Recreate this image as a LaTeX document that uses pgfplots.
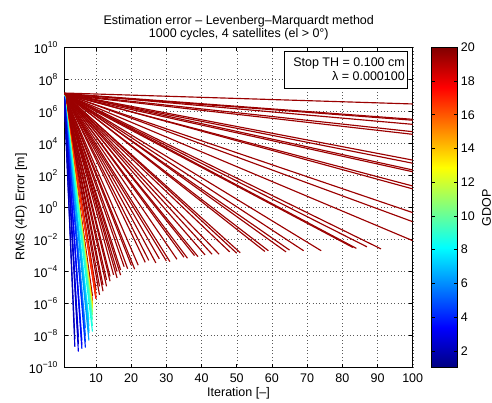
\documentclass[border=0pt]{standalone}
\usepackage{pgfplots}
\pgfplotsset{compat=1.18}
\usepackage{fontspec}
\setmainfont{Liberation Sans}

\newcommand{\lbl}{\fontsize{12.5}{14}\selectfont}
\newcommand{\ex}[1]{10\raisebox{5.6pt}{\fontsize{8.5}{9}\selectfont #1}}
% one convergence run: error at iteration 1, last iteration, last error, GDOP
\newcommand{\run}[4]{\addplot[mesh, line width=1.15pt, point meta={#4}] coordinates {(1,#1) (#2,#3)};}

\begin{document}
\begin{tikzpicture}
\useasboundingbox (0pt,0pt) rectangle (492pt,403pt);
\begin{axis}[
  at={(64.3pt,35.3pt)}, anchor=south west,
  scale only axis, width=348.4pt, height=320.4pt,
  xmin=1, xmax=100, ymode=log, ymin=1e-10, ymax=1e10,
  xtick={10,20,...,100},
  ytick={1e-10,1e-8,1e-6,1e-4,1e-2,1,1e2,1e4,1e6,1e8,1e10},
  yticklabels={\ex{−10},\ex{−8},\ex{−6},\ex{−4},\ex{−2},\ex{0},\ex{2},\ex{4},\ex{6},\ex{8},\ex{10}},
  yminorticks=false,
  /pgf/number format/assume math mode=true,
  xticklabel style={font=\lbl, yshift=-2.5pt},
  yticklabel style={font=\lbl, xshift=-3.5pt},
  grid=major,
  grid style={black!65, line width=0.4pt, dash pattern=on 0.6pt off 2.8pt},
  tick style={black, line width=0.5pt}, major tick length=3.5pt,
  axis line style={line width=0.6pt},
  colormap/jet,
  point meta min=1, point meta max=20,
  colorbar,
  colorbar/width=25.6pt,
  colorbar shift/.style={xshift=19pt},
  colorbar style={
    at={(parent axis.north east)}, anchor=north west,
    scale only axis, width=25.6pt, height=320.4pt,
    ytick={2,4,...,20},
    yticklabel style={font=\lbl, /pgf/number format/assume math mode=true},
    tick style={black, line width=0.5pt}, major tick length=3pt,
    axis line style={line width=0.6pt},
  },
]
% slowly converging runs (high GDOP)
\run{1.4e7}{100}{2.9e6}{19.5}
\run{1.3e7}{100}{3.2e5}{19.5}
\run{1.2e7}{100}{2.8e5}{19.5}
\run{1.3e7}{100}{1.55e5}{19.5}
\run{1.2e7}{100}{5.4e4}{19.5}
\run{1.1e7}{100}{3.7e4}{19.5}
\run{1.3e7}{100}{9.1e2}{19.5}
\run{1.2e7}{100}{5.8e2}{19.5}
\run{1.3e7}{100}{2.2e2}{19.5}
\run{1.1e7}{100}{1.7e2}{19.5}
\run{1.2e7}{100}{2.2e1}{19.5}
\run{1.3e7}{100}{1.45e1}{19.5}
\run{1.2e7}{100}{4.8e-1}{19.5}
\run{1.3e7}{100}{1.3e-1}{19.5}
\run{1.2e7}{100}{8.5e-3}{19.5}
\run{1.3e7}{91}{2.6e-3}{19.5}
\run{1.2e7}{87}{3.5e-3}{19.5}
\run{1.3e7}{84}{2.8e-3}{19.5}
\run{1.1e7}{83}{3.2e-3}{19.5}
\run{1.2e7}{74}{2.0e-3}{19.5}
\run{1.3e7}{69}{2.0e-3}{19.5}
\run{1.2e7}{65}{2.2e-3}{19.5}
\run{1.4e7}{64}{1.7e-3}{19.5}
\run{1.2e7}{59}{2.0e-3}{19.5}
\run{1.3e7}{58}{1.8e-3}{19.5}
\run{1.2e7}{51}{1.5e-3}{19.5}
\run{1.3e7}{50}{1.4e-3}{19.5}
\run{1.1e7}{48}{1.7e-3}{19.5}
\run{1.3e7}{45}{1.2e-3}{19.5}
\run{1.2e7}{43}{1.2e-3}{19.5}
\run{1.3e7}{41}{1.1e-3}{19.5}
\run{1.2e7}{39}{8.5e-4}{19.5}
\run{1.4e7}{38}{1.0e-3}{19.5}
\run{1.2e7}{36}{6.8e-4}{19.5}
\run{1.3e7}{35}{7.9e-4}{19.5}
\run{1.2e7}{33}{5.9e-4}{19.5}
\run{1.3e7}{31}{4.2e-4}{19.5}
\run{1.1e7}{30}{4.6e-4}{19.5}
\run{1.2e7}{28}{6.3e-4}{19.5}
\run{1.3e7}{27}{3.5e-4}{19.5}
\run{1.2e7}{25}{5.0e-4}{19.5}
\run{1.3e7}{24}{3.8e-4}{19.5}
\run{1.2e7}{22}{2.5e-4}{19.5}
\run{1.3e7}{21}{1.4e-4}{19.5}
\run{1.2e7}{20}{2.6e-4}{19.5}
\run{1.1e7}{19}{1.5e-4}{19.5}
\run{1.2e7}{18}{2.0e-4}{19.5}
\run{1.3e7}{17}{1.26e-4}{19.5}
\run{1.2e7}{17}{6.0e-5}{19.5}
\run{1.1e7}{16}{1.0e-4}{19.5}
\run{1.2e7}{16}{4.0e-5}{19.5}
\run{1.3e7}{15}{6.2e-5}{19.5}
\run{1.2e7}{14}{5.0e-5}{19.5}
\run{1.1e7}{14}{2.5e-5}{19.5}
\run{1.2e7}{13}{3.0e-5}{19.5}
\run{1.1e7}{13}{1.2e-5}{19.5}
\run{1.2e7}{12}{1.45e-5}{19.5}
\run{1.1e7}{12}{6.0e-6}{19.5}
\run{1.2e7}{11}{3.5e-6}{19.5}
\run{1.1e7}{11}{1.2e-5}{19.5}
\run{1.1e7}{10}{2.1e-6}{19.5}
\run{1.2e7}{10}{8.0e-6}{19.5}
\run{1.1e7}{9}{3.0e-6}{19.5}
% fast converging runs
\run{1e7}{9}{1.5e-6}{18.8}
\run{1e7}{10}{4e-6}{18.2}
\run{1e7}{10}{2e-6}{17.5}
\run{1e7}{10}{3e-6}{16.5}
\run{1e7}{9}{6e-7}{15.5}
\run{1e7}{9}{1e-6}{14.5}
\run{1e7}{9}{7e-7}{13.5}
\run{1e7}{9}{5e-7}{12.5}
\run{1e7}{9}{3e-7}{11.5}
\run{1e7}{9}{2e-7}{10.5}
\run{1e7}{9}{1e-7}{9.5}
\run{1e7}{9}{4e-8}{9.0}
\run{9e6}{9}{1.8e-8}{8.6}
\run{9e6}{8}{1e-7}{8.3}
\run{9e6}{8}{2e-8}{7.8}
\run{8e6}{8}{4e-8}{7.2}
\run{9e6}{8}{1.5e-8}{6.8}
\run{8e6}{8}{5e-9}{6.3}
\run{9e6}{7}{3e-8}{6.0}
\run{8e6}{7}{1e-8}{5.5}
\run{9e6}{7}{4e-9}{5.0}
\run{8e6}{7}{1.8e-9}{4.2}
\run{7e6}{6}{5e-9}{4.5}
\run{8e6}{6}{1.5e-9}{4.0}
\run{7e6}{6}{2.5e-9}{3.2}
\run{8e6}{5}{8e-9}{3.5}
\run{7e6}{5}{1e-9}{3.0}
\run{8e6}{5}{3e-9}{2.2}
\run{7e6}{4}{2e-9}{2.5}
\run{6e6}{4}{6e-9}{2.0}
\end{axis}
% titles and labels
\node[font=\lbl, anchor=base] at (238.8pt,378pt) {Estimation error – Levenberg–Marquardt method};
\node[font=\lbl, anchor=base] at (238.8pt,365.7pt) {1000 cycles, 4 satellites (el > 0°)};
\node[font=\lbl, anchor=base] at (238.5pt,6pt) {Iteration [–]};
\node[font=\lbl, anchor=base, rotate=90] at (24.5pt,196pt) {RMS (4D) Error [m]};
\node[font=\lbl, rotate=90, inner sep=0pt] at (486.5pt,195pt) {GDOP};
% stopping settings box
\draw[fill=white, line width=0.5pt] (284.3pt,314.7pt) rectangle (407.7pt,351.3pt);
\node[font=\lbl, anchor=base east, inner sep=0pt] at (405pt,336.3pt) {Stop TH = 0.100 cm};
\node[font=\lbl, anchor=base east, inner sep=0pt] at (405pt,322.3pt) {λ = 0.000100};
\end{tikzpicture}
\end{document}
